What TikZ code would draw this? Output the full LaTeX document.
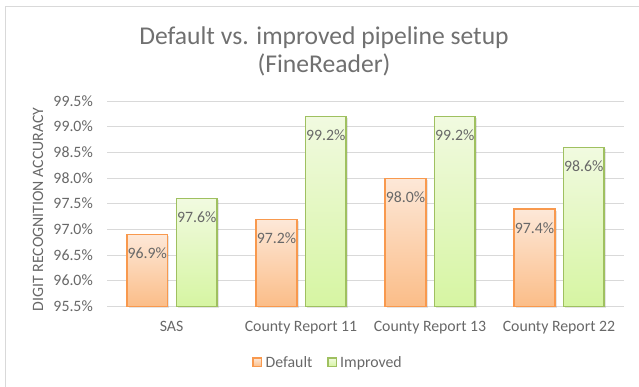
\documentclass[tikz,border=0pt]{standalone}
\usepackage{fontspec}
\setmainfont{Carlito}
\usepackage{xcolor}
\usepackage{tikz}

\definecolor{txt}{HTML}{686868}
\definecolor{ttl}{HTML}{707070}
\definecolor{gridc}{HTML}{D9D9D9}
\definecolor{orline}{HTML}{F8994E}
\definecolor{ortop}{HTML}{FDE8D8}
\definecolor{orbot}{HTML}{FBBD88}
\definecolor{grline}{HTML}{9FC060}
\definecolor{grtop}{HTML}{F1FAE0}
\definecolor{grbot}{HTML}{D6F5A2}

\tikzset{
  lbl/.style={text=txt,font=\fontsize{15.8}{18}\selectfont,inner sep=0pt},
  gridline/.style={draw=gridc,line width=1pt},
  defbar/.style={draw=orline,line width=1.2pt,top color=ortop,bottom color=orbot},
  impbar/.style={draw=grline,line width=1.2pt,top color=grtop,bottom color=grbot},
  barshadow/.style={fill=black,opacity=0.1},
  declare function={acc(\v)=80.3+(\v-95.5)*51.4;}
}

\begin{document}
\begin{tikzpicture}[x=1pt,y=1pt]
\useasboundingbox (0,0) rectangle (639,387);
\draw[draw=gridc,line width=0.8pt] (639,381) -- (5,381) -- (5,0);

\node[lbl,text=ttl,font=\fontsize{25.6}{28}\selectfont,align=center] (title) at (324,336) {Default vs. improved pipeline setup\\(FineReader)};
\node[lbl,rotate=90] (ytitle) at (38,177.5) {DIGIT RECOGNITION ACCURACY};

\draw[gridline] (107,{acc(95.5)}) -- (624,{acc(95.5)});
\draw[gridline] (107,{acc(96.0)}) -- (624,{acc(96.0)});
\draw[gridline] (107,{acc(96.5)}) -- (624,{acc(96.5)});
\draw[gridline] (107,{acc(97.0)}) -- (624,{acc(97.0)});
\draw[gridline] (107,{acc(97.5)}) -- (624,{acc(97.5)});
\draw[gridline] (107,{acc(98.0)}) -- (624,{acc(98.0)});
\draw[gridline] (107,{acc(98.5)}) -- (624,{acc(98.5)});
\draw[gridline] (107,{acc(99.0)}) -- (624,{acc(99.0)});
\draw[gridline] (107,{acc(99.5)}) -- (624,{acc(99.5)});
\node[lbl,anchor=base east] (t955) at (93,{acc(95.5)-5}) {95.5\%};
\node[lbl,anchor=base east] (t960) at (93,{acc(96.0)-5}) {96.0\%};
\node[lbl,anchor=base east] (t965) at (93,{acc(96.5)-5}) {96.5\%};
\node[lbl,anchor=base east] (t970) at (93,{acc(97.0)-5}) {97.0\%};
\node[lbl,anchor=base east] (t975) at (93,{acc(97.5)-5}) {97.5\%};
\node[lbl,anchor=base east] (t980) at (93,{acc(98.0)-5}) {98.0\%};
\node[lbl,anchor=base east] (t985) at (93,{acc(98.5)-5}) {98.5\%};
\node[lbl,anchor=base east] (t990) at (93,{acc(99.0)-5}) {99.0\%};
\node[lbl,anchor=base east] (t995) at (93,{acc(99.5)-5}) {99.5\%};

% bars, default then improved for each set
\fill[barshadow] (128.5,79) rectangle (169,{acc(96.9)-1.5});
\fill[barshadow] (178,79) rectangle (218.5,{acc(97.6)-1.5});
\fill[barshadow] (257.5,79) rectangle (298.5,{acc(97.2)-1.5});
\fill[barshadow] (307,79) rectangle (347.5,{acc(99.2)-1.5});
\fill[barshadow] (386.5,79) rectangle (427.5,{acc(98.0)-1.5});
\fill[barshadow] (436,79) rectangle (476.5,{acc(99.2)-1.5});
\fill[barshadow] (515.5,79) rectangle (556.5,{acc(97.4)-1.5});
\fill[barshadow] (565,79) rectangle (605.5,{acc(98.6)-1.5});
\path[defbar] (127,{acc(95.5)}) rectangle (167.5,{acc(96.9)});
\path[impbar] (176.5,{acc(95.5)}) rectangle (217,{acc(97.6)});
\path[defbar] (256,{acc(95.5)}) rectangle (297,{acc(97.2)});
\path[impbar] (305.5,{acc(95.5)}) rectangle (346,{acc(99.2)});
\path[defbar] (385,{acc(95.5)}) rectangle (426,{acc(98.0)});
\path[impbar] (434.5,{acc(95.5)}) rectangle (475,{acc(99.2)});
\path[defbar] (514,{acc(95.5)}) rectangle (555,{acc(97.4)});
\path[impbar] (563.5,{acc(95.5)}) rectangle (604,{acc(98.6)});

\node[lbl,anchor=base] (v1) at (147.2,{acc(96.9)-24}) {96.9\%};
\node[lbl,anchor=base] (v2) at (196.7,{acc(97.6)-24}) {97.6\%};
\node[lbl,anchor=base] (v3) at (276.5,{acc(97.2)-24}) {97.2\%};
\node[lbl,anchor=base] (v4) at (325.7,{acc(99.2)-24}) {99.2\%};
\node[lbl,anchor=base] (v5) at (405.5,{acc(98.0)-24}) {98.0\%};
\node[lbl,anchor=base] (v6) at (454.7,{acc(99.2)-24}) {99.2\%};
\node[lbl,anchor=base] (v7) at (534.5,{acc(97.4)-24}) {97.4\%};
\node[lbl,anchor=base] (v8) at (583.7,{acc(98.6)-24}) {98.6\%};

\node[lbl,anchor=base] (c1) at (171.6,55) {SAS};
\node[lbl,anchor=base] (c2) at (301,55) {County Report 11};
\node[lbl,anchor=base] (c3) at (430,55) {County Report 13};
\node[lbl,anchor=base] (c4) at (559,55) {County Report 22};

% legend
\path[defbar] (253,20.5) rectangle (261.5,29);
\node[lbl,anchor=base west] (lg1) at (265.5,19) {Default};
\path[impbar] (328,20.5) rectangle (336.5,29);
\node[lbl,anchor=base west] (lg2) at (340,19) {Improved};
\end{tikzpicture}
\end{document}
